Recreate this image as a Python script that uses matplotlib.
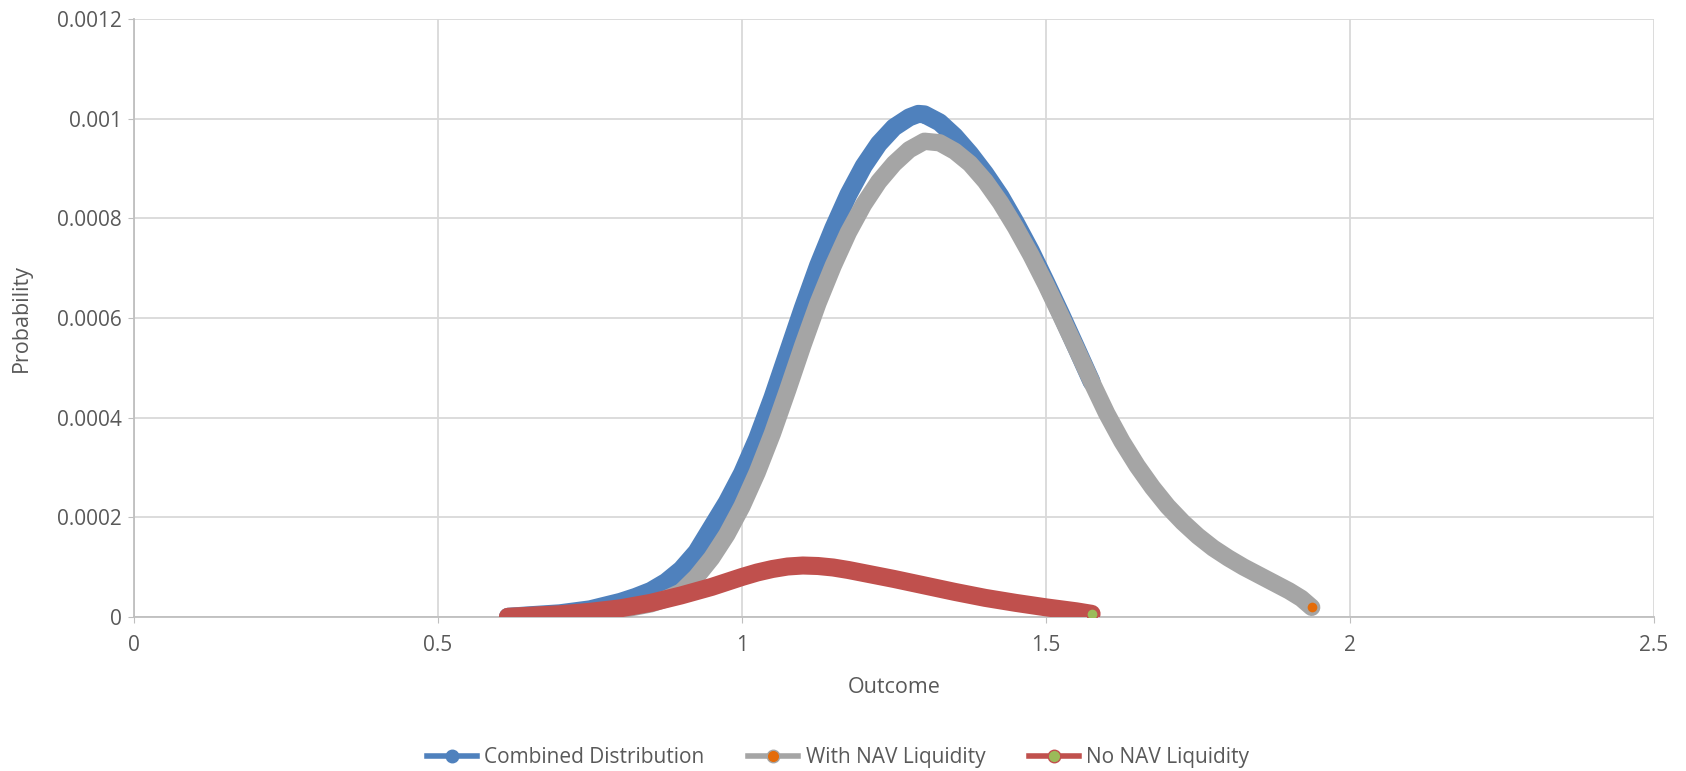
import matplotlib.pyplot as plt

# values
x_comb = [0.615, 0.65, 0.70, 0.75, 0.80, 0.825, 0.85, 0.875, 0.90, 0.925,
          0.95, 0.975, 1.00, 1.025, 1.05, 1.075, 1.10, 1.125, 1.15, 1.175,
          1.20, 1.225, 1.25, 1.275, 1.29, 1.30, 1.325, 1.35, 1.375, 1.40,
          1.425, 1.45, 1.475, 1.50, 1.525, 1.55, 1.575]
y_comb = [0.0, 0.000003, 0.000007, 0.000015, 0.00003, 0.00004, 0.000052,
          0.00007, 0.000095, 0.00013, 0.00018, 0.00023, 0.000288, 0.000358,
          0.00044, 0.00053, 0.00062, 0.000705, 0.00078, 0.000848, 0.000905,
          0.00095, 0.000983, 0.001003, 0.00101, 0.001009, 0.000993,
          0.000965, 0.00093, 0.00089, 0.000845, 0.000792, 0.000735,
          0.000672, 0.000607, 0.00054, 0.000472]

x_nav = [0.615, 0.65, 0.70, 0.75, 0.80, 0.85, 0.875, 0.90, 0.925, 0.95,
         0.975, 1.00, 1.025, 1.05, 1.075, 1.10, 1.125, 1.15, 1.175, 1.20,
         1.225, 1.25, 1.275, 1.30, 1.325, 1.35, 1.375, 1.40, 1.425, 1.45,
         1.475, 1.50, 1.525, 1.55, 1.575, 1.60, 1.625, 1.65, 1.675, 1.70,
         1.725, 1.75, 1.775, 1.80, 1.825, 1.85, 1.875, 1.90, 1.92, 1.937]
y_nav = [0.0, 0.000002, 0.000004, 0.000008, 0.000014, 0.000026, 0.000036,
         0.00005, 0.00008, 0.000118, 0.000165, 0.000222, 0.00029, 0.000368,
         0.000455, 0.000545, 0.00063, 0.000705, 0.000772, 0.000828,
         0.000874, 0.00091, 0.000938, 0.000955, 0.000952, 0.000935,
         0.00091, 0.000875, 0.000832, 0.000782, 0.000727, 0.000667,
         0.000603, 0.000538, 0.000472, 0.000408, 0.000352, 0.000303,
         0.00026, 0.000222, 0.00019, 0.000162, 0.000138, 0.000118, 0.0001,
         0.000084, 0.000068, 0.000052, 0.000037, 0.000019]

x_no = [0.615, 0.65, 0.70, 0.75, 0.80, 0.85, 0.90, 0.95, 0.975, 1.00, 1.025,
        1.05, 1.075, 1.10, 1.125, 1.15, 1.175, 1.20, 1.25, 1.30, 1.35, 1.40,
        1.45, 1.50, 1.55, 1.575]
y_no = [0.0, 0.000002, 0.000005, 0.00001, 0.000017, 0.000028, 0.000043,
        0.00006, 0.00007, 0.00008, 0.000089, 0.000096, 0.000101, 0.000103,
        0.000102, 0.000099, 0.000094, 0.000088, 0.000076, 0.000063,
        0.00005, 0.000038, 0.000028, 0.000019, 0.000011, 0.000006]

x_ticks = [0, 0.5, 1, 1.5, 2, 2.5]
x_labels = ['0', '0.5', '1', '1.5', '2', '2.5']
y_ticks = [0, 0.0002, 0.0004, 0.0006, 0.0008, 0.001, 0.0012]
y_labels = ['0', '0.0002', '0.0004', '0.0006', '0.0008', '0.001', '0.0012']

plt.rcParams['font.family'] = ['Open Sans', 'DejaVu Sans']

fig = plt.figure(figsize=(16.86, 7.71), dpi=100)
ax = fig.add_axes([0.0795, 0.2, 0.9015, 0.775])

blue, gray, red = '#4F81BD', '#A5A5A5', '#C0504D'
orange, green = '#E46C0A', '#9BBB59'
txt = '#595959'

ax.plot(x_comb, y_comb, color=blue, lw=13, solid_capstyle='round',
        solid_joinstyle='round', zorder=3)
ax.plot(x_nav, y_nav, color=gray, lw=12.5, solid_capstyle='round',
        solid_joinstyle='round', zorder=4)
ax.plot(x_no, y_no, color=red, lw=13, solid_capstyle='round',
        solid_joinstyle='round', zorder=5)

# end markers
ax.plot(x_nav[-1:], y_nav[-1:], 'o', color=orange, mec=gray, ms=8, mew=1, zorder=6)
ax.plot(x_no[-1:], y_no[-1:], 'o', color=green, mec=red, ms=8, mew=1, zorder=6)

ax.set_xlim(0, 2.5)
ax.set_ylim(0, 0.0012)
ax.set_xticks(x_ticks)
ax.set_xticklabels(x_labels)
ax.set_yticks(y_ticks)
ax.set_yticklabels(y_labels)
ax.grid(True, color='#D9D9D9', lw=1.3)
ax.set_axisbelow(True)
for s in ['top', 'right']:
    ax.spines[s].set_visible(False)
for s in ['left', 'bottom']:
    ax.spines[s].set_color('#BFBFBF')
    ax.spines[s].set_linewidth(1.3)
ax.tick_params(colors='#BFBFBF', labelcolor=txt, labelsize=15, length=4)
ax.tick_params(axis='x', pad=9)
ax.tick_params(axis='y', pad=5)

ax.set_xlabel('Outcome', fontsize=15.5, color=txt, va='center')
ax.xaxis.set_label_coords(0.5, -0.119)
ax.set_ylabel('Probability', fontsize=15.5, color=txt, va='center')
ax.yaxis.set_label_coords(-0.074, 0.5)

handles = [
    plt.Line2D([], [], color=blue, lw=4, marker='o', ms=9, mfc=blue, mec=blue),
    plt.Line2D([], [], color=gray, lw=4, marker='o', ms=9, mfc=orange, mec=gray),
    plt.Line2D([], [], color=red, lw=4, marker='o', ms=9, mfc=green, mec=red),
]
fig.legend(handles, ['Combined Distribution', 'With NAV Liquidity', 'No NAV Liquidity'],
           loc='center', bbox_to_anchor=(0.497, 0.017), ncol=3, frameon=False,
           fontsize=15, labelcolor=txt, handlelength=2.4, columnspacing=2.1,
           handletextpad=0.36)

fig.savefig('out.png', dpi=100)
